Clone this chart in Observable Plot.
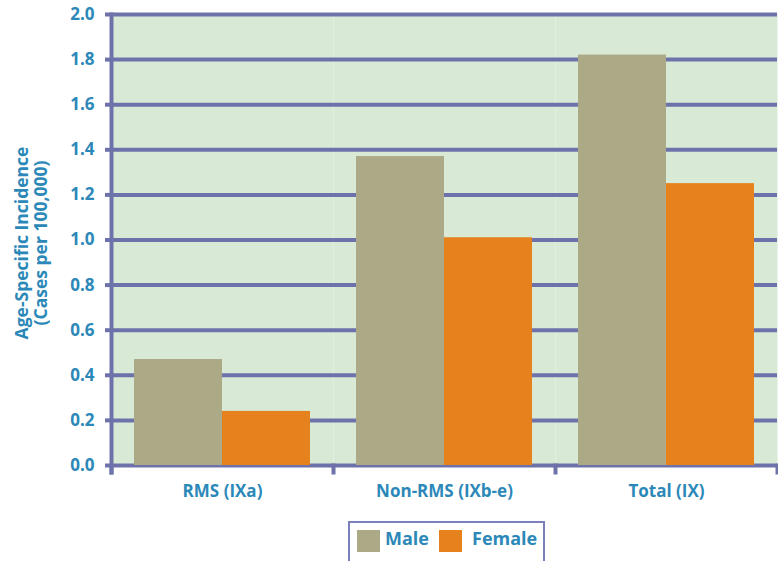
<!DOCTYPE html>
<html>
<head>
<meta charset="utf-8">
<script src="https://cdn.jsdelivr.net/npm/d3@7"></script>
<script src="https://cdn.jsdelivr.net/npm/@observablehq/plot@0.6"></script>
<style>
  html, body { margin: 0; padding: 0; background: #ffffff; overflow: hidden; }
  body { width: 778px; height: 561px; font-family: "Open Sans", sans-serif; }
  #legend { position: relative; margin-left: 348px; margin-top: 6px; width: 193px; height: 48px;
            border: 2px solid #7b80bb; border-bottom: none; box-sizing: content-box; }
  .sw { position: absolute; top: 7px; width: 23px; height: 22px; }
  .lt { position: absolute; top: 3px; font-weight: 700; font-size: 18px; color: #2c88b8; }
</style>
</head>
<body>
<div id="chart"></div>
<div id="legend">
  <div class="sw" style="left:7px;background:#aca987"></div>
  <div class="lt" style="left:35px">Male</div>
  <div class="sw" style="left:89px;background:#e6821e"></div>
  <div class="lt" style="left:122px">Female</div>
</div>
<script>
const categories = ["RMS (IXa)", "Non-RMS (IXb-e)", "Total (IX)"];
const sexes = ["Male", "Female"];
const maleValues = [0.47, 1.37, 1.82];
const femaleValues = [0.24, 1.01, 1.25];
const yTicks = [0, 0.2, 0.4, 0.6, 0.8, 1.0, 1.2, 1.4, 1.6, 1.8, 2.0];
const yLabel = "Age-Specific Incidence\n(Cases per 100,000)";

const data = categories.flatMap((c, i) => [
  {category: c, sex: "Male", value: maleValues[i]},
  {category: c, sex: "Female", value: femaleValues[i]}
]);

const W = 778, H = 515, mT = 14, mB = 50, mL = 110, mR = 0;
const innerH = H - mT - mB;
const lineColor = "#6e72aa";
const textColor = "#2c88b8";

const chart = Plot.plot({
  width: W, height: H,
  marginLeft: mL, marginRight: mR, marginTop: mT, marginBottom: mB,
  style: {fontFamily: "'Open Sans', sans-serif", background: "transparent", overflow: "visible"},
  fx: {domain: categories, padding: 0, label: null},
  x: {domain: sexes, paddingInner: 0, paddingOuter: 0.26, axis: null},
  y: {domain: [0, 2]},
  color: {domain: sexes, range: ["#aca987", "#e6821e"]},
  marks: [
    Plot.frame({fill: "#d8ead6", stroke: "none"}),
    Plot.ruleY(yTicks, {stroke: lineColor, strokeWidth: 4}),
    Plot.barY(data, {fx: "category", x: "sex", y: "value", fill: "sex"}),
    Plot.frame({anchor: "left", facetAnchor: "left", stroke: lineColor, strokeWidth: 4, insetBottom: -7}),
    Plot.frame({anchor: "left", stroke: lineColor, strokeWidth: 4, insetTop: innerH, insetBottom: -7}),
    Plot.frame({anchor: "right", facetAnchor: "right", stroke: lineColor, strokeWidth: 4, insetTop: innerH, insetBottom: -7}),
    Plot.axisY({ticks: yTicks, tickFormat: d3.format(".1f"), tickSize: 6, tickPadding: 11,
      stroke: lineColor, strokeWidth: 4, fill: textColor, color: textColor,
      fontSize: 17, fontWeight: "bold", label: null}),
    Plot.text([yLabel], {frameAnchor: "left", facetAnchor: "left", rotate: -90, dx: -80, dy: 3,
      textAnchor: "middle", lineAnchor: "middle", fontSize: 17.5, fontWeight: "bold", fill: textColor, lineHeight: 1.1}),
    Plot.axisFx({anchor: "bottom", tickSize: 0, tickPadding: 19, fontSize: 17, fontWeight: "bold",
      fill: textColor, color: textColor, label: null})
  ]
});
document.getElementById("chart").appendChild(chart);
</script>
</body>
</html>
